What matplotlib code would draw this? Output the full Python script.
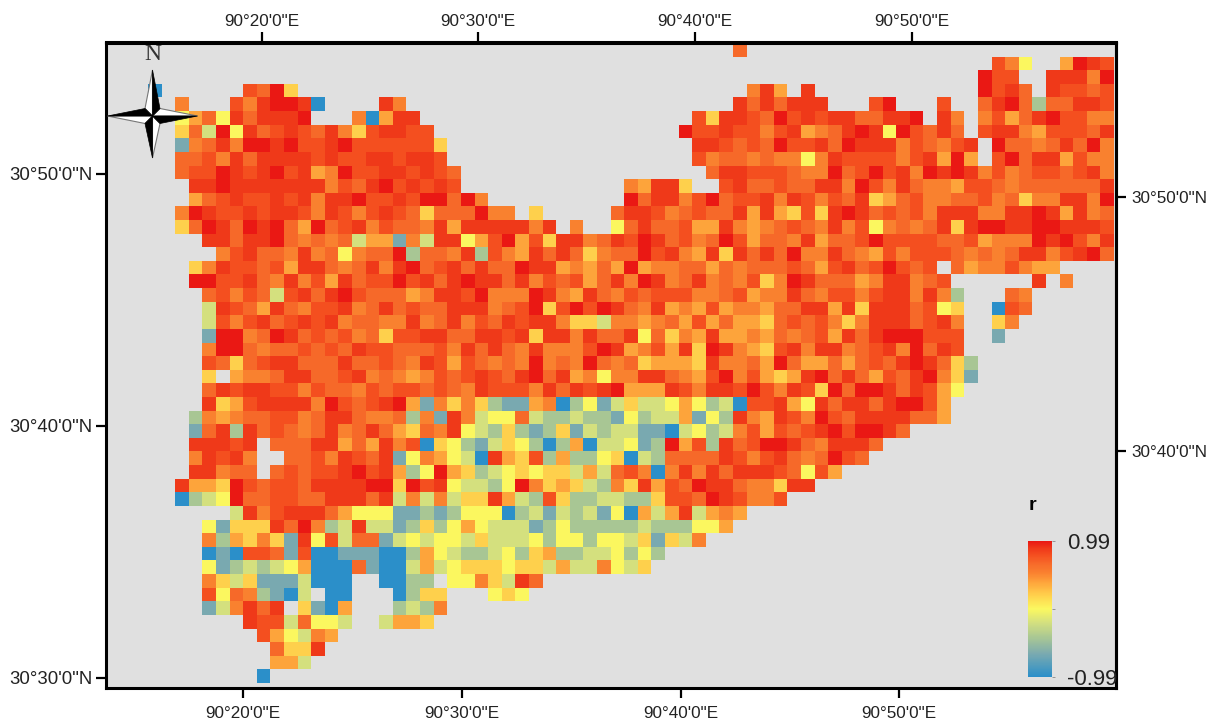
#!/usr/bin/env python3

import numpy as np
import matplotlib
matplotlib.use("Agg")
import matplotlib.pyplot as plt
from matplotlib.colors import LinearSegmentedColormap, Normalize
from matplotlib.cm import ScalarMappable

plt.rcParams['font.family'] = ['Liberation Sans', 'DejaVu Sans']

# classes of r, one character per cell, "." is no data
class_names = list("0123456789ab")
class_values = [-0.99, -0.66, -0.42, -0.20, 0.00, 0.20, 0.38, 0.52, 0.66, 0.78, 0.88, 0.99]
class_colors = ["#2b8fc9", "#7aaab0", "#a9c794", "#d4e07f", "#fbf860", "#ffd04c",
                "#fea63c", "#fa8230", "#f76a2a", "#f55020", "#f03a1a", "#ea1814"]

rows = [
    "."*43 + "8",
    "."*62 + "974..6ba9",
    "."*61 + "b99..aaa7b",
    "0" + "."*6 + "98b5" + "."*33 + "7a6.a" + "."*12 + "b9a8.a9989",
    ".."  + "7..." + "97abba0" + "."*4 + "a7" + "."*24 + "a8a8aaa" + "..." + "9b" + "..." + "9" + ".." + "8ab8288aa9",
    ".."  + "4684a8aaab" + "..." + "706aa" + "."*20 + "95aa9 8b9a9 aa88a ab.a7 .7968 ab997 7",
    ".."  + "583b4a89a98a759aa99" + "."*18 + "b99a9 979a6 78aba 4b98a 8.9aa 76999 8a",
    ".."  + "178a7bbab99ab9999995" + "."*18 + "aa9898b99a8baaa79879a.b8878a8b7",
    ".."  + "8897a8aaaa9a99aa9aa9" + "."*18 + "9788787747a999979a6b6.9b8aa6977",
    ".."  + "899ba9ab9a67b99aa9a98" + "."*18 + "8aa999877b89b9a7baba79789989a7",
    "..." + "aabaaaaaaa798ab9a9a9" + "."*12 + "76aa5 .. 9a889 88aa7 b97a8 7769 9878 88888a",
    "..." + "689a99a9a7aab99a9bb8b7" + "."*10 + "b8aa79b8 99a7a979 8a568977 88978577 aa7b",
    ".."  + "7ba99 a9aa9 7a979 a9858 88b77 .5" + "."*5 + "8aa97 8988a 6a659 5aba8 9897a aa77a aba6a 78",
    ".."  + "58ba8 bab86 b89a7 9887a 6aaaa a7a.7 ..48a 88966 a7678 987a7 94787 8a5ab baabb aaa9",
    "...." + "aa8aa b8787 83661 73aa4 69b69 5aa78 a9ba8 978b9 6887a 6889b 99998 89677 7bab9 7a",
    "....." + "79a88 7a784 788b2 887a2 976a8 a8578 8b9a7 6a5a8 a8b77 a8769 79998 7878a a79ab 8",
    "..." + "57a99 896aa 878a7 ab89a 8a88b aa676 86b67 78868 78889 869a8 9b989 .8677 9766",
    "..." + "bb99a 87a79 6a899 b9a8a baa8a 79896 8a7ba 78a78 7957b a8886 7aa78 9" + "."*6 + "a.7",
    "...." + "89798 39a8a b9888 67aa9 b777b a76a8 79899 97789 677a8 79979 aa7a7 2" + "..." + "87",
    "...." + "3a986 a8799 a78a8 988aa a789b 59b9b a87a6 76967 7688a a6a5a aa894 5" + ".." + "098",
    "...." + "3979a 89a9a 78877 a78a7 98a9a a7553 77678 69686 65898 9757a aa89a 7" + ".." + "57",
    "...." + "1bb78 ba898 97859 9aa88 aa9a5 aa7a8 8a485 76a66 76878 96a8a bbb99 9" + ".." + "1",
    "...." + "7bb87 88989 8a998 8897a 8a87a 7779b a6796 a5ba7 659a7 aa789 a7b8a 9",
    "...." + "98589 aa888 a8898 7a969 8787b 787b8 78566 65a77 86b86 68689 8aba8 52",
    "...." + "5.677 8aa88 9a787 67989 a98ab 8a674 77aa8 769b7 9656a b8a86 98ab7 51",
    "...." + "8a9aa 99798 87989 98987 a9997 a8a9a b666a 97aa9 b97a9 5b8bb a8a96 4",
    "...." + "a569a aaa7b 989ab 61757 52116 70241 35334 64230 99a64 a8aa8 abb96",
    "..." + "27678 89978 aa877 8271a 73448 32232 21423 36142 a76a9 7b98a aaa88 6",
    "..." + "18a2a 89878 a78a8 6587a 43252 12513 23311 03423 79698 9ab9b ba8",
    "..." + "aaa9a .888a a686a 79054 21354 20260 33412 b692a 89bba 87aaa 8",
    "..." + "7a9a7 ..889 7a98a 14764 30a65 92622 45032 8888a 979a8 78b98",
    "..." + "aa788 .8989 9ab9a 624b6 52345 45536 38970 7a7a8 aaa98 496",
    ".."  + "a665b 98998 aaaab b5b9a 43324 b7565 3275a 698ba a8775 aa",
    ".."  + "0234b 88998 8aaa8 a3737 355a6 32952 23322 5998b a9779",
    "......" + "3a79a aa864 44112 12444 02313 23140 636a3 676",
    "...." + "41555 a8b72 3a331 25246 43331 24222 22322 2446",
    "...." + "72657 51a49 38813 43443 53334 24424 43515 37",
    "...." + "01099 81900 11100 26432 23425 62233 4242",
    "...." + "41232 34600 08100 36345 55455 36337 435",
    "...." + "75351 11300 0..00 22.44 753a8",
    "...." + "94872 103.0 0...0 255.. .454",
    "...." + "137a8 a.510 6...2 327",
    "......." + "a9938 443.. 3665",
    "........" + "96437 6",
    "........." + "855a",
    "........." + "663",
    "........" + "0",
]

top_ticks = [262, 478, 695, 912]
bottom_ticks = [243, 462, 681, 899]
left_ticks = [174, 426, 678]
right_ticks = [197, 451]
lon_labels = ['90°20\'0"E', '90°30\'0"E', '90°40\'0"E', '90°50\'0"E']
left_labels = ['30°50\'0"N', '30°40\'0"N', '30°30\'0"N']
right_labels = ['30°50\'0"N', '30°40\'0"N']

# turn the class characters into a grid of r
lookup = dict(zip(class_names, class_values))
n_cols = 71
grid = np.full((len(rows), n_cols), np.nan)
for i, row in enumerate(rows):
    for j, ch in enumerate(row.replace(" ", "")):
        if ch != ".":
            grid[i, j] = lookup[ch]

nodes = [(v + 0.99) / 1.98 for v in class_values]
cmap = LinearSegmentedColormap.from_list("r_map", list(zip(nodes, class_colors)))
cmap.set_bad((0, 0, 0, 0))
norm = Normalize(-0.99, 0.99)

W, H = 1216, 726
fig = plt.figure(figsize=(W / 100, H / 100), dpi=100)
# axes run in sheet pixels, the map is not a regular lon/lat grid anyway
left, right, top, bottom = 106, 1116, 42.5, 688
ax = fig.add_axes([left / W, 1 - bottom / H, (right - left) / W, (bottom - top) / H])
ax.set_facecolor("#e0e0e0")
ax.imshow(grid, cmap=cmap, norm=norm, extent=(148.1, 1113.7, 683.5, 44.3),
          interpolation="nearest", aspect="auto", zorder=1)
ax.set_xlim(left, right)
ax.set_ylim(bottom, top)

tick_style = dict(length=7, width=1.6, color="black", labelsize=12.3, labelcolor="#222222")
ax.set_xticks(bottom_ticks, lon_labels)
ax.set_yticks(left_ticks, left_labels)
ax.tick_params(axis="x", pad=6, **tick_style)
ax.tick_params(axis="y", pad=3, **tick_style)
ax.tick_params(axis="y", labelsize=13.4)

top_ax = ax.secondary_xaxis("top")
top_ax.set_xticks(top_ticks, lon_labels)
top_ax.tick_params(axis="x", pad=3, **tick_style)
right_ax = ax.secondary_yaxis("right")
right_ax.set_yticks(right_ticks, right_labels)
right_ax.tick_params(axis="y", pad=4, **tick_style)
for a in [ax, top_ax, right_ax]:
    for s in a.spines.values():
        s.set_linewidth(2.2)

# north arrow
cx, cy = 152.5, 116
arm_n, arm_s, arm_w, arm_e = 46, 42, 45, 45
d = 7.5
dark = [[(cx, cy), (cx, cy - arm_n), (cx + d, cy - d)],
        [(cx, cy), (cx + arm_e, cy), (cx + d, cy + d)],
        [(cx, cy), (cx, cy + arm_s), (cx - d, cy + d)],
        [(cx, cy), (cx - arm_w, cy), (cx - d, cy - d)]]
light = [[(cx, cy), (cx, cy - arm_n), (cx - d, cy - d)],
         [(cx, cy), (cx + arm_e, cy), (cx + d, cy - d)],
         [(cx, cy), (cx, cy + arm_s), (cx + d, cy + d)],
         [(cx, cy), (cx - arm_w, cy), (cx - d, cy + d)]]
for tri in light:
    ax.fill(*zip(*tri), facecolor="white", edgecolor="#777777", lw=0.8, zorder=4)
for tri in dark:
    ax.fill(*zip(*tri), facecolor="black", edgecolor="black", lw=0.5, zorder=5)
ax.text(cx, 55, "N", family="Liberation Serif", fontsize=17, color="#333333",
        ha="center", va="center", zorder=6)

# legend
cax = fig.add_axes([1027.7 / W, 1 - 676.7 / H, 24 / W, 135.7 / H], zorder=5)
cbar = fig.colorbar(ScalarMappable(norm=norm, cmap=cmap), cax=cax)
cbar.set_ticks([-0.99, 0, 0.99], labels=["-0.99", "", "0.99"])
cbar.outline.set_visible(False)
cax.tick_params(axis="y", length=2, width=0.6, color="#888888", pad=9,
                labelsize=16, labelcolor="#222222")
for t in cax.get_yticklabels():
    t.set_clip_on(False)
ax.text(1032, 505, "r", fontsize=14, fontweight="bold", color="black",
        ha="center", va="center", zorder=6)

plt.savefig("out.png", dpi=100)
